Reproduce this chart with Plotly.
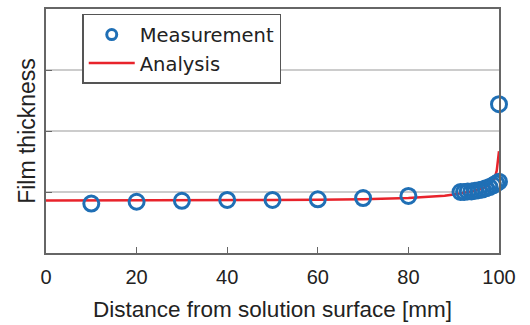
import plotly.graph_objects as go

meas_x = [10, 20, 30, 40, 50, 60, 70, 80,
          91.5, 92.3, 93.1, 93.9, 94.7, 95.5, 96.3, 97.1, 97.9, 98.7, 99.4, 100, 100]
meas_y = [0.81, 0.84, 0.855, 0.87, 0.87, 0.88, 0.90, 0.935,
          1.0, 1.0, 1.01, 1.01, 1.02, 1.03, 1.04, 1.06, 1.08, 1.11, 1.14, 1.17, 2.44]

ana_x = [0, 10, 20, 30, 40, 50, 60, 70, 80, 85, 88, 90, 92, 94, 96, 97, 98, 99, 99.5, 100]
ana_y = [0.86, 0.86, 0.86, 0.865, 0.865, 0.87, 0.875, 0.88, 0.9, 0.92, 0.94, 0.96, 0.98, 1.01, 1.05, 1.08, 1.13, 1.22, 1.35, 1.67]

x_ticks = [0, 20, 40, 60, 80, 100]
y_ticks = [1, 2, 3]

font = "Liberation Sans, Arial, sans-serif"
blue = "#1f6fb5"
red = "#e8232b"

fig = go.Figure()
fig.add_trace(go.Scatter(
    x=ana_x, y=ana_y, mode="lines", name="Analysis", showlegend=False,
    line=dict(color=red, width=2.5), cliponaxis=False))
fig.add_trace(go.Scatter(
    x=meas_x, y=meas_y, mode="markers", name="Measurement", showlegend=False,
    marker=dict(symbol="circle-open", size=15, color=blue, line=dict(width=3, color=blue)),
    cliponaxis=False))
# legend entries
fig.add_trace(go.Scatter(
    x=[None], y=[None], mode="markers", name="Measurement",
    marker=dict(symbol="circle-open", size=10, color=blue, line=dict(width=3, color=blue))))
fig.add_trace(go.Scatter(
    x=[None], y=[None], mode="lines", name="Analysis",
    line=dict(color=red, width=2.5)))

fig.update_layout(
    width=530, height=325,
    margin=dict(l=46, r=31, t=7, b=70),
    paper_bgcolor="white", plot_bgcolor="white",
    font=dict(family=font, size=19, color="#222"),
    showlegend=True,
    legend=dict(x=0.08, y=0.98, xanchor="left", yanchor="top",
                bgcolor="white", bordercolor="#555", borderwidth=1.5,
                font=dict(size=19.5, color="#222", family="DejaVu Sans, sans-serif"),
                itemwidth=46, tracegroupgap=0),
    xaxis=dict(range=[0, 100], tickvals=x_ticks, ticktext=[str(v) for v in x_ticks],
               ticks="inside", ticklen=6, tickcolor="#666", showgrid=False,
               showline=True, linecolor="#666", linewidth=1.5, mirror=True,
               zeroline=False, ticklabelstandoff=5,
               title=dict(text="Distance from solution surface [mm]", font=dict(size=22.5), standoff=14),
               tickfont=dict(size=20)),
    yaxis=dict(range=[0, 4], tickvals=y_ticks, showticklabels=False,
               ticks="inside", ticklen=6, tickcolor="#666",
               showgrid=True, gridcolor="#cccccc", gridwidth=1.5,
               showline=True, linecolor="#666", linewidth=1.5, mirror=True,
               zeroline=False,
               title=dict(text="Film thickness", font=dict(size=23), standoff=2)),
)

fig.write_html("out.html", config={"displayModeBar": False},
               post_script="document.body.style.margin='0';")
